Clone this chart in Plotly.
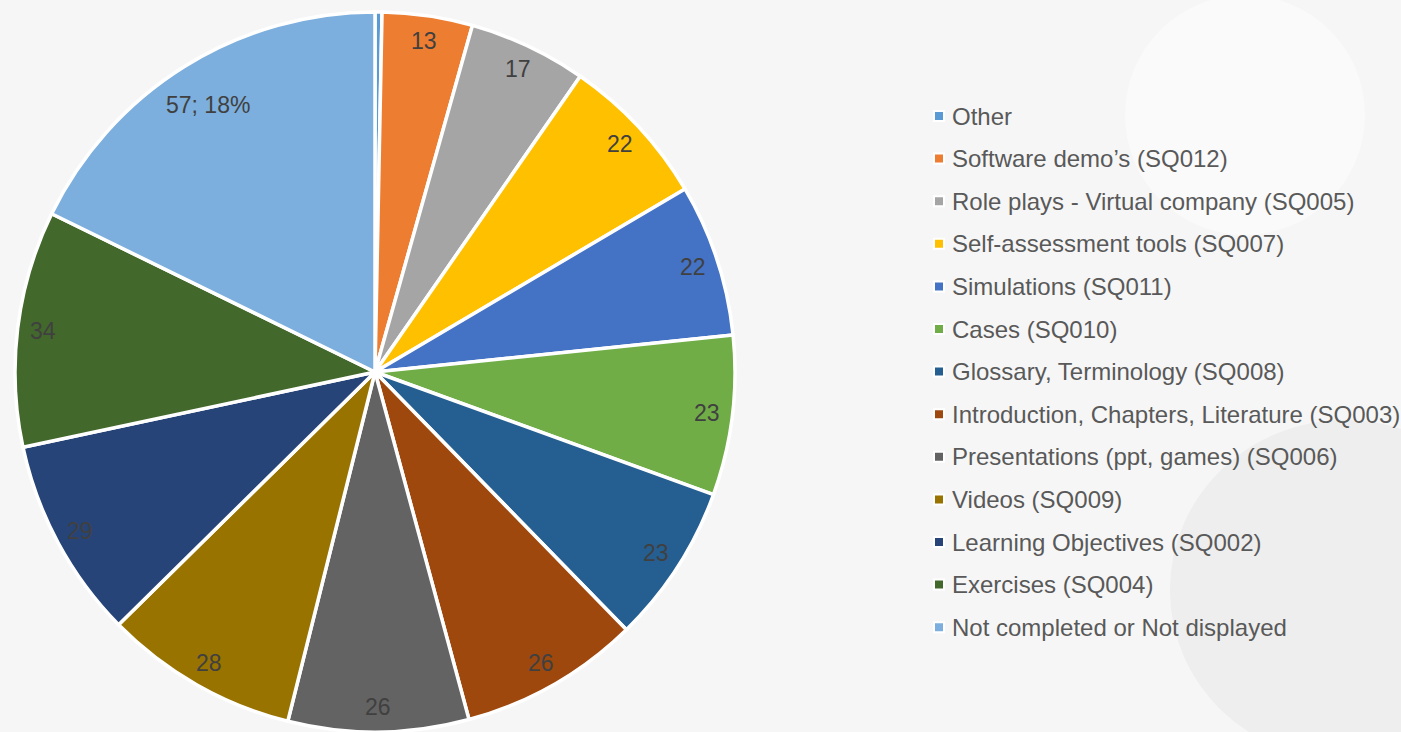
import math
import plotly.graph_objects as go

labels = [
    "Other",
    "Software demo’s (SQ012)",
    "Role plays - Virtual company (SQ005)",
    "Self-assessment tools (SQ007)",
    "Simulations (SQ011)",
    "Cases (SQ010)",
    "Glossary, Terminology (SQ008)",
    "Introduction, Chapters, Literature (SQ003)",
    "Presentations (ppt, games) (SQ006)",
    "Videos (SQ009)",
    "Learning Objectives (SQ002)",
    "Exercises (SQ004)",
    "Not completed or Not displayed",
]
values = [1, 13, 17, 22, 22, 23, 23, 26, 26, 28, 29, 34, 57]
colors = [
    "#5B9BD5", "#ED7D31", "#A5A5A5", "#FFC000", "#4472C4", "#70AD47",
    "#255E91", "#9E480E", "#636363", "#997300", "#264478", "#43682B", "#7CAFDD",
]
point_labels = ["", "13", "17", "22", "22", "23", "23", "26", "26", "28", "29", "34", "57; 18%"]

W, H = 1401, 732
MT = 12
PLOT_H = H - MT
CX, CY, R = 375.0, MT + PLOT_H / 2.0, PLOT_H / 2.0
FONT = "Liberation Sans, Arial, sans-serif"

fig = go.Figure()
fig.add_trace(go.Pie(
    labels=labels,
    values=values,
    sort=False,
    direction="clockwise",
    rotation=0,
    marker=dict(colors=colors, line=dict(color="white", width=3.5)),
    textinfo="none",
    showlegend=False,
    domain=dict(x=[(CX - R) / W, (CX + R) / W], y=[0, 1]),
))

total = sum(values)
annotations = []
cum = 0
for v, t in zip(values, point_labels):
    mid = (cum + v / 2.0) / total * 2 * math.pi
    cum += v
    if not t:
        continue
    rf = 0.875 if len(t) > 3 else 0.93
    px = CX + R * rf * math.sin(mid)
    py = CY - R * rf * math.cos(mid)
    annotations.append(dict(
        x=px / W, y=(H - py) / PLOT_H, xref="paper", yref="paper",
        text=t, showarrow=False, xanchor="center", yanchor="middle",
        font=dict(family=FONT, size=23, color="#404040"),
    ))

# legend drawn as marker squares + text
LX, LY0, LDY = 939.0, 116.0, 42.6
shapes = []
for i, (lab, col) in enumerate(zip(labels, colors)):
    y = LY0 + i * LDY
    yp = (H - y) / PLOT_H
    shapes.append(dict(
        type="rect", xref="paper", yref="paper",
        xsizemode="pixel", ysizemode="pixel",
        xanchor=LX / W, yanchor=yp,
        x0=-5, x1=5, y0=-5, y1=5,
        fillcolor=col, line=dict(color="white", width=2), layer="above",
    ))
    annotations.append(dict(
        x=950 / W, y=yp, xref="paper", yref="paper",
        text=lab, showarrow=False, xanchor="left", yanchor="middle",
        font=dict(family=FONT, size=24, color="#595959"),
    ))

# faint background blobs
bg = [
    dict(type="circle", xref="paper", yref="paper", x0=1125 / W, x1=1365 / W,
         y0=(H - 235) / PLOT_H, y1=(H + 5) / PLOT_H,
         fillcolor="rgba(255,255,255,0.45)", line=dict(width=0), layer="below"),
    dict(type="circle", xref="paper", yref="paper", x0=1170 / W, x1=1520 / W,
         y0=(H - 760) / PLOT_H, y1=(H - 420) / PLOT_H,
         fillcolor="rgba(220,220,220,0.3)", line=dict(width=0), layer="below"),
]

fig.update_layout(
    width=W, height=H,
    margin=dict(l=0, r=0, t=MT, b=0),
    paper_bgcolor="#f6f6f6",
    plot_bgcolor="#f6f6f6",
    annotations=annotations,
    shapes=bg + shapes,
    showlegend=False,
)
fig.write_html("out.html")
